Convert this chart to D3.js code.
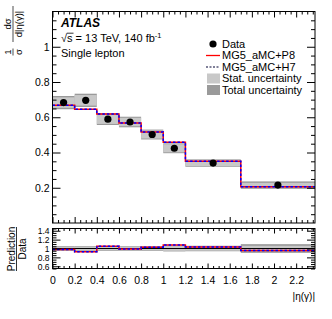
<!DOCTYPE html>
<html><head><meta charset="utf-8">
<script src="https://cdn.jsdelivr.net/npm/d3@7"></script>
<style>body{margin:0;background:#fff} svg text{font-family:"Liberation Sans",Arial,Helvetica,sans-serif}</style>
</head><body><svg id="c" width="332" height="319"></svg>
<script>
const binEdges=[0,0.2,0.4,0.6,0.8,1.0,1.2,1.7,2.37];
const dataValues=[0.683,0.696,0.589,0.573,0.502,0.424,0.340,0.215];
const predP8=[0.668,0.645,0.619,0.568,0.517,0.458,0.351,0.205];
const predH7=[0.668,0.645,0.619,0.568,0.517,0.458,0.351,0.205];
const totUnc=[0.0375,0.0376,0.033,0.030,0.028,0.028,0.021,0.021];
const statUnc=[0.030,0.030,0.027,0.024,0.023,0.023,0.017,0.013];
const mainYTicks=[0.2,0.4,0.6,0.8,1];
const ratioYTicks=[0.6,0.8,1,1.2,1.4];
const xTicks=[0,0.2,0.4,0.6,0.8,1,1.2,1.4,1.6,1.8,2,2.2];
const legendLabels=["Data","MG5_aMC+P8","MG5_aMC+H7","Stat. uncertainty","Total uncertainty"];

const svg=d3.select("#c");
const X0=52.5,X1=315,MT=11.5,MB=223,RT=228.5,RB=268.5;
const x=d3.scaleLinear().domain([0,2.37]).range([X0,X1]);
const y=d3.scaleLinear().domain([0,1.2]).range([MB,MT]);
const yr=d3.scaleLinear().domain([0.55,1.45]).range([RB,RT]);
const STAT="#c8c8c8",TOT="#9a9a9a";
const bins=dataValues.map((v,i)=>({i,x0:binEdges[i],x1:binEdges[i+1],v,p8:predP8[i],h7:predH7[i],st:statUnc[i],tot:totUnc[i]}));

function stepPts(vals){const p=vals.map((v,i)=>[binEdges[i],v]);p.push([binEdges[binEdges.length-1],vals[vals.length-1]]);return p;}

// ---- main panel
const gm=svg.append("g");
gm.selectAll("rect.tot").data(bins).enter().append("rect")
 .attr("x",d=>x(d.x0)).attr("width",d=>x(d.x1)-x(d.x0))
 .attr("y",d=>y(d.v+d.tot)).attr("height",d=>y(d.v-d.tot)-y(d.v+d.tot)).attr("fill",TOT);
gm.selectAll("rect.st").data(bins).enter().append("rect")
 .attr("x",d=>x(d.x0)).attr("width",d=>x(d.x1)-x(d.x0))
 .attr("y",d=>y(d.v+d.st)).attr("height",d=>y(d.v-d.st)-y(d.v+d.st)).attr("fill",STAT);
const lineM=d3.line().x(d=>x(d[0])).y(d=>y(d[1])).curve(d3.curveStepAfter);
gm.append("path").attr("d",lineM(stepPts(predP8))).attr("fill","none").attr("stroke","#ff0000").attr("stroke-width",1.5);
gm.append("path").attr("d",lineM(stepPts(predH7))).attr("fill","none").attr("stroke","#0000ff").attr("stroke-width",1.5).attr("stroke-dasharray","2.5,2");
gm.selectAll("circle").data(bins).enter().append("circle")
 .attr("cx",d=>x((d.x0+d.x1)/2)).attr("cy",d=>y(d.v)).attr("r",3.6).attr("fill","#000");

// ---- ratio panel
const gr=svg.append("g");
gr.selectAll("rect.tot").data(bins).enter().append("rect")
 .attr("x",d=>x(d.x0)).attr("width",d=>x(d.x1)-x(d.x0))
 .attr("y",d=>yr(1+d.tot/d.v)).attr("height",d=>yr(1-d.tot/d.v)-yr(1+d.tot/d.v)).attr("fill",TOT);
gr.selectAll("rect.st").data(bins).enter().append("rect")
 .attr("x",d=>x(d.x0)).attr("width",d=>x(d.x1)-x(d.x0))
 .attr("y",d=>yr(1+d.st/d.v)).attr("height",d=>yr(1-d.st/d.v)-yr(1+d.st/d.v)).attr("fill",STAT);
gr.append("line").attr("x1",X0).attr("x2",X1).attr("y1",yr(1)).attr("y2",yr(1)).attr("stroke","#000").attr("stroke-width",1);
const lineR=d3.line().x(d=>x(d[0])).y(d=>yr(d[1])).curve(d3.curveStepAfter);
gr.append("path").attr("d",lineR(stepPts(predP8.map((p,i)=>p/dataValues[i])))).attr("fill","none").attr("stroke","#ff0000").attr("stroke-width",1.5);
gr.append("path").attr("d",lineR(stepPts(predH7.map((p,i)=>p/dataValues[i])))).attr("fill","none").attr("stroke","#0000ff").attr("stroke-width",1.5).attr("stroke-dasharray","2.5,2");

// ---- axes helpers
function minors(lo,hi,step,majStep){const r=[];for(let v=lo;v<=hi+1e-9;v+=step){const q=Math.round(v/majStep*1000)/1000;if(Math.abs(q-Math.round(q))>1e-6)r.push(+v.toFixed(4));}return r;}
function styleAxis(g){g.select(".domain").remove();g.selectAll("line").attr("stroke","#000");g.selectAll("text").attr("fill","#000");}
const xMaj=xTicks, xMin=minors(0,2.37,0.05,0.2);
function drawX(top,bot,majL,minL,labels){
 const gb=svg.append("g").attr("transform",`translate(0,${bot})`);
 gb.call(d3.axisBottom(x).tickValues(xMaj).tickSize(-majL).tickPadding(4).tickFormat(labels?(d=>String(d)):(()=>""))).call(styleAxis);
 gb.selectAll("text").attr("font-size",10.5).attr("dy","1.05em");
 svg.append("g").attr("transform",`translate(0,${bot})`).call(d3.axisBottom(x).tickValues(xMin).tickSize(-minL).tickFormat(()=>"")).call(styleAxis);
 svg.append("g").attr("transform",`translate(0,${top})`).call(d3.axisTop(x).tickValues(xMaj).tickSize(-majL).tickFormat(()=>"")).call(styleAxis);
 svg.append("g").attr("transform",`translate(0,${top})`).call(d3.axisTop(x).tickValues(xMin).tickSize(-minL).tickFormat(()=>"")).call(styleAxis);
}
function drawY(sc,maj,mn,majL,minL,fs){
 const gl=svg.append("g").attr("transform",`translate(${X0},0)`);
 gl.call(d3.axisLeft(sc).tickValues(maj).tickSize(-majL).tickPadding(3).tickFormat(d=>String(d))).call(styleAxis);
 gl.selectAll("text").attr("font-size",fs);
 svg.append("g").attr("transform",`translate(${X0},0)`).call(d3.axisLeft(sc).tickValues(mn).tickSize(-minL).tickFormat(()=>"")).call(styleAxis);
 svg.append("g").attr("transform",`translate(${X1},0)`).call(d3.axisRight(sc).tickValues(maj).tickSize(-majL).tickFormat(()=>"")).call(styleAxis);
 svg.append("g").attr("transform",`translate(${X1},0)`).call(d3.axisRight(sc).tickValues(mn).tickSize(-minL).tickFormat(()=>"")).call(styleAxis);
}
drawX(MT,MB,6,3,false);
drawY(y,mainYTicks,minors(0.05,1.2,0.05,0.2),8,4,10.5);
drawX(RT,RB,5,2.5,true);
drawY(yr,ratioYTicks,minors(0.55,1.45,0.05,0.2),8,4,8.5);
svg.append("rect").attr("x",X0).attr("y",MT).attr("width",X1-X0).attr("height",MB-MT).attr("fill","none").attr("stroke","#000").attr("stroke-width",1);
svg.append("rect").attr("x",X0).attr("y",RT).attr("width",X1-X0).attr("height",RB-RT).attr("fill","none").attr("stroke","#000").attr("stroke-width",1);

// ---- labels
svg.append("text").attr("x",61).attr("y",27).attr("font-size",12).attr("font-weight","bold").attr("font-style","italic").text("ATLAS");
const t2=svg.append("text").attr("x",61).attr("y",42).attr("font-size",11);
t2.append("tspan").text("\u221As = 13 TeV, 140 fb");
t2.append("tspan").attr("dy",-4).attr("font-size",7.5).text("-1");
svg.append("line").attr("x1",66.8).attr("x2",73.5).attr("y1",33.2).attr("y2",33.2).attr("stroke","#000").attr("stroke-width",0.8);
svg.append("text").attr("x",61).attr("y",57).attr("font-size",11).text("Single lepton");

// legend
const LX=222, LY=[44,55.5,67,78.5,90];
const lg=svg.append("g");
lg.append("circle").attr("cx",213).attr("cy",LY[0]).attr("r",3.6).attr("fill","#000");
lg.append("line").attr("x1",206).attr("x2",220).attr("y1",LY[1]).attr("y2",LY[1]).attr("stroke","#ff0000").attr("stroke-width",1.3);
lg.append("line").attr("x1",206).attr("x2",220).attr("y1",LY[2]).attr("y2",LY[2]).attr("stroke","#000033").attr("stroke-width",1.1).attr("stroke-dasharray","2,1.5");
lg.append("rect").attr("x",207).attr("y",LY[3]-5).attr("width",13).attr("height",10).attr("fill",STAT);
lg.append("rect").attr("x",207).attr("y",LY[4]-5).attr("width",13).attr("height",10).attr("fill",TOT);
lg.selectAll("text").data(legendLabels).enter().append("text").attr("x",LX).attr("y",(d,i)=>LY[i]+3.8).attr("font-size",11).text(d=>d);

// y title main
const yt=svg.append("g").attr("transform","translate(14,29) rotate(-90)");
yt.append("text").attr("x",-23).attr("y",-3).attr("font-size",9.5).attr("text-anchor","middle").text("1");
yt.append("line").attr("x1",-26.5).attr("x2",-19.5).attr("y1",-1).attr("y2",-1).attr("stroke","#000").attr("stroke-width",0.7);
yt.append("text").attr("x",-23).attr("y",7.5).attr("font-size",9.5).attr("text-anchor","middle").text("\u03c3");
yt.append("text").attr("x",5).attr("y",-3).attr("font-size",9.5).attr("text-anchor","middle").text("d\u03c3");
yt.append("line").attr("x1",-13).attr("x2",23).attr("y1",-1).attr("y2",-1).attr("stroke","#000").attr("stroke-width",0.7);
yt.append("text").attr("x",5).attr("y",7.5).attr("font-size",9.5).attr("text-anchor","middle").text("d|\u03b7(\u03b3)|");

// ratio title
const rt=svg.append("g").attr("transform","translate(20,249) rotate(-90)");
rt.append("text").attr("x",0).attr("y",-5).attr("font-size",10).attr("text-anchor","middle").text("Prediction");
rt.append("line").attr("x1",-22).attr("x2",22).attr("y1",-3.5).attr("y2",-3.5).attr("stroke","#000").attr("stroke-width",0.8);
rt.append("text").attr("x",0).attr("y",6).attr("font-size",10).attr("text-anchor","middle").text("Data");

svg.append("text").attr("x",X1).attr("y",300).attr("text-anchor","end").attr("font-size",10).text("|\u03b7(\u03b3)|");
</script></body></html>
